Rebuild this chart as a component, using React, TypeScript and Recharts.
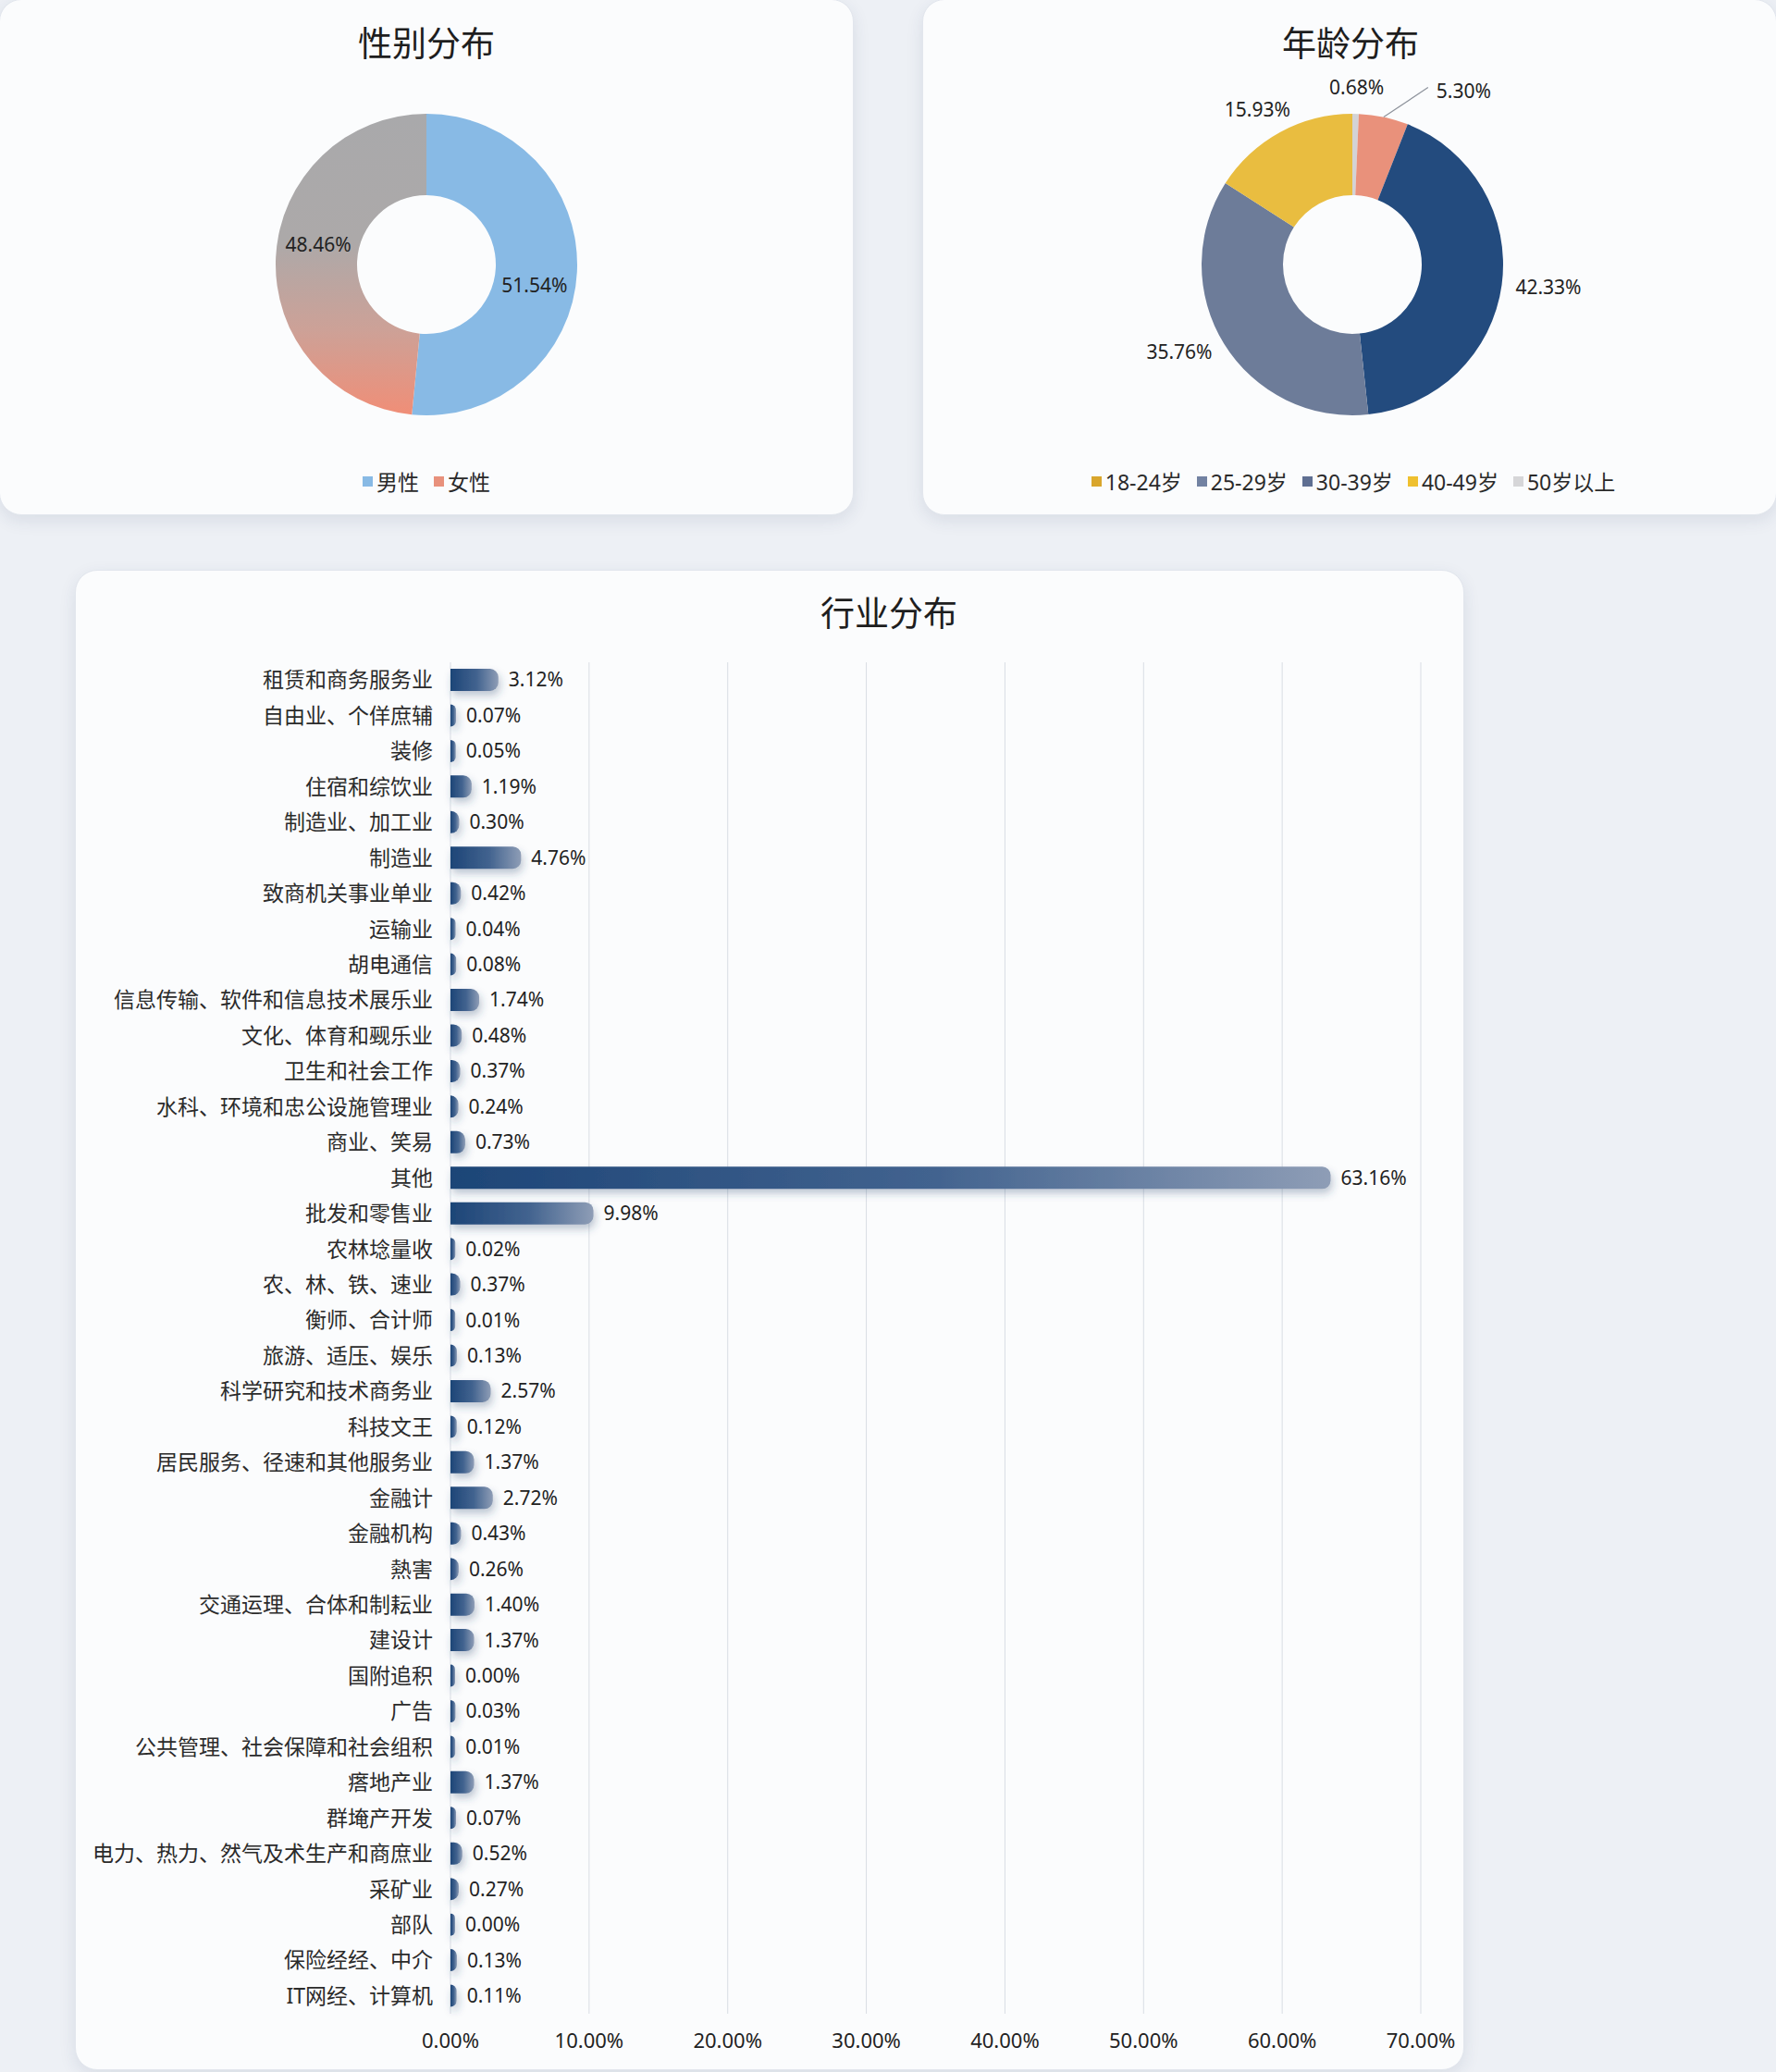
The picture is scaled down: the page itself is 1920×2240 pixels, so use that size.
import React from "react";
import {
  PieChart,
  Pie,
  Cell,
  BarChart,
  Bar,
  XAxis,
  YAxis,
  CartesianGrid,
  LabelList,
} from "recharts";

// ---- data ----
const genderNames = ["男性", "女性"];
const genderValues = [51.54, 48.46];

// slices go clockwise from 12 o'clock
const ageSliceNames = ["50岁以上", "40-49岁", "30-39岁", "25-29岁", "18-24岁"];
const ageSliceValues = [0.68, 5.3, 42.33, 35.76, 15.93];
const ageLegendNames = ["18-24岁", "25-29岁", "30-39岁", "40-49岁", "50岁以上"];

const industryNames = [
  "租赁和商务服务业",
  "自由业、个佯庶辅",
  "装修",
  "住宿和综饮业",
  "制造业、加工业",
  "制造业",
  "致商机关事业单业",
  "运输业",
  "胡电通信",
  "信息传输、软件和信息技术展乐业",
  "文化、体育和觋乐业",
  "卫生和社会工作",
  "水科、环境和忠公设施管理业",
  "商业、笑易",
  "其他",
  "批发和零售业",
  "农林埝量收",
  "农、林、铁、速业",
  "衡师、合计师",
  "旅游、适压、娱乐",
  "科学研究和技术商务业",
  "科技文王",
  "居民服务、径速和其他服务业",
  "金融计",
  "金融机构",
  "熱害",
  "交通运理、合体和制耘业",
  "建设计",
  "国附追积",
  "广告",
  "公共管理、社会保障和社会组积",
  "瘩地产业",
  "群埯产开发",
  "电力、热力、然气及术生产和商庶业",
  "采矿业",
  "部队",
  "保险经经、中介",
  "IT网经、计算机",
];
const industryValues = [
  3.12, 0.07, 0.05, 1.19, 0.3, 4.76, 0.42, 0.04, 0.08, 1.74, 0.48, 0.37, 0.24,
  0.73, 63.16, 9.98, 0.02, 0.37, 0.01, 0.13, 2.57, 0.12, 1.37, 2.72, 0.43, 0.26,
  1.4, 1.37, 0.0, 0.03, 0.01, 1.37, 0.07, 0.52, 0.27, 0.0, 0.13, 0.11,
];
const xTicks = [0, 10, 20, 30, 40, 50, 60, 70];

// ---- styles ----
const genderColors = ["#88BAE5", "url(#femaleGrad)"];
const genderLegendColors = ["#88BAE5", "#E8917C"];
const ageSliceColors = ["#D3D3D6", "#E9917B", "#234B7E", "#6D7C99", "#E9BD40"];
const ageLegendColors = ["#D9A62C", "#7282A2", "#5F6F92", "#EFC02F", "#D6D6D8"];

const FONT = "'Noto Sans', 'Noto Sans CJK SC', sans-serif";
const CJK = "'Noto Sans CJK SC', sans-serif";
const RADIAN = Math.PI / 180;

const genderData = genderNames.map((name, i) => ({ name, value: genderValues[i] }));
const ageData = ageSliceNames.map((name, i) => ({ name, value: ageSliceValues[i] }));
const industryData = industryNames.map((name, i) => ({ name, value: industryValues[i] }));

const pct = (v: number) => `${v.toFixed(2)}%`;

const cardStyle: React.CSSProperties = {
  position: "absolute",
  background: "#FBFCFD",
  borderRadius: 24,
  border: "1px solid #E2E6ED",
  boxShadow: "0 6px 18px rgba(40,60,100,0.10)",
  overflow: "hidden",
};

const titleStyle: React.CSSProperties = {
  position: "absolute",
  top: 17,
  height: 56,
  lineHeight: "56px",
  fontSize: 37,
  color: "#1E1E1E",
  fontFamily: CJK,
  textAlign: "center",
};

const LegendRow = ({ names, colors, width }: any) => (
  <div
    style={{
      position: "absolute",
      left: 0,
      top: 506,
      width,
      height: 28,
      display: "flex",
      justifyContent: "center",
      alignItems: "center",
      gap: 16,
      fontFamily: FONT,
      fontSize: 23,
      color: "#2A2A2A",
    }}
  >
    {names.map((n: string, i: number) => (
      <div key={n} style={{ display: "flex", alignItems: "center", gap: 4 }}>
        <span style={{ width: 11, height: 11, background: colors[i], display: "inline-block" }} />
        <span>{n}</span>
      </div>
    ))}
  </div>
);

const renderGenderLabel = (p: any) => {
  const { cx, cy, midAngle, innerRadius, outerRadius, value } = p;
  const r = (innerRadius + outerRadius) / 2;
  const a = (midAngle - 8) * RADIAN;
  const x = cx + r * Math.cos(a);
  const y = cy - r * Math.sin(a);
  return (
    <text x={x} y={y} textAnchor="middle" dominantBaseline="central" fill="#222" fontSize={21} fontFamily={FONT}>
      {pct(value)}
    </text>
  );
};

const renderAgeLabel = (p: any) => {
  const { cx, cy, midAngle, outerRadius, value, index } = p;
  const cos = Math.cos(midAngle * RADIAN);
  const sin = Math.sin(midAngle * RADIAN);
  const common = { fill: "#222", fontSize: 21, fontFamily: FONT, dominantBaseline: "central" as const };
  if (index === 1) {
    // leader line for the thin slice
    const sx = cx + outerRadius * cos;
    const sy = cy - outerRadius * sin;
    const ex = sx + 48;
    const ey = sy - 32;
    return (
      <g>
        <path d={`M${sx},${sy}L${ex},${ey}`} stroke="#8D929B" strokeWidth={1.2} fill="none" />
        <text x={ex + 9} y={ey + 3} textAnchor="start" {...common}>
          {pct(value)}
        </text>
      </g>
    );
  }
  if (Math.abs(cos) < 0.6) {
    const r = outerRadius + 29;
    return (
      <text x={cx + r * cos + 22 * cos} y={cy - r * sin} textAnchor="middle" {...common}>
        {pct(value)}
      </text>
    );
  }
  const r = outerRadius + 15;
  return (
    <text x={cx + r * cos} y={cy - r * sin} textAnchor={cos > 0 ? "start" : "end"} {...common}>
      {pct(value)}
    </text>
  );
};

const RoundBar = (props: any) => {
  const { x, y, width, height } = props;
  if (x == null || y == null) return null;
  const w = Math.max(width || 0, 0) + 5;
  const rr = Math.min(height / 2, 9, w);
  const d = `M${x},${y} H${x + w - rr} A${rr},${rr} 0 0 1 ${x + w},${y + rr} V${y + height - rr} A${rr},${rr} 0 0 1 ${x + w - rr},${y + height} H${x} Z`;
  return <path d={d} fill="url(#barGrad)" filter="url(#barShadow)" />;
};

export default function App() {
  return (
    <div
      style={{
        position: "absolute",
        left: 0,
        top: 0,
        width: 1920,
        height: 2240,
        background: "#EDF0F5",
        overflow: "hidden",
      }}
    >
      {/* gender */}
      <div style={{ ...cardStyle, left: -1, top: -1, width: 922, height: 556 }}>
        <div style={{ ...titleStyle, left: 0, width: 922 }}>性别分布</div>
        <div style={{ position: "absolute", left: 0, top: 0 }}>
          <PieChart width={922} height={556} margin={{ top: 0, right: 0, bottom: 0, left: 0 }}>
            <defs>
              <linearGradient id="femaleGrad" x1="0" y1="0" x2="0" y2="1">
                <stop offset="0%" stopColor="#A9A9AB" />
                <stop offset="42%" stopColor="#ACA9A9" />
                <stop offset="72%" stopColor="#CDA197" />
                <stop offset="100%" stopColor="#F08E77" />
              </linearGradient>
            </defs>
            <Pie
              data={genderData}
              dataKey="value"
              cx={461}
              cy={286}
              innerRadius={75}
              outerRadius={163}
              startAngle={90}
              endAngle={-270}
              stroke="none"
              labelLine={false}
              label={renderGenderLabel}
              isAnimationActive={false}
            >
              {genderData.map((d, i) => (
                <Cell key={d.name} fill={genderColors[i]} stroke="none" />
              ))}
            </Pie>
          </PieChart>
        </div>
        <LegendRow names={genderNames} colors={genderLegendColors} width={922} />
      </div>

      {/* age */}
      <div style={{ ...cardStyle, left: 997, top: -1, width: 922, height: 556 }}>
        <div style={{ ...titleStyle, left: 0, width: 924 }}>年龄分布</div>
        <div style={{ position: "absolute", left: 0, top: 0 }}>
          <PieChart width={922} height={556} margin={{ top: 0, right: 0, bottom: 0, left: 0 }}>
            <Pie
              data={ageData}
              dataKey="value"
              cx={464}
              cy={286}
              innerRadius={75}
              outerRadius={163}
              startAngle={90}
              endAngle={-270}
              stroke="none"
              labelLine={false}
              label={renderAgeLabel}
              isAnimationActive={false}
            >
              {ageData.map((d, i) => (
                <Cell key={d.name} fill={ageSliceColors[i]} stroke="none" />
              ))}
            </Pie>
          </PieChart>
        </div>
        <LegendRow names={ageLegendNames} colors={ageLegendColors} width={930} />
      </div>

      {/* industry */}
      <div style={{ ...cardStyle, left: 81, top: 616, width: 1500, height: 1620 }}>
        <div style={{ ...titleStyle, top: 16, left: 0, width: 1758 }}>行业分布</div>
        <div style={{ position: "absolute", left: 0, top: 0 }}>
          <BarChart
            width={1500}
            height={1620}
            layout="vertical"
            data={industryData}
            margin={{ top: 99, right: 46, bottom: 0, left: 0 }}
          >
            <defs>
              <linearGradient id="barGrad" x1="0" y1="0" x2="1" y2="0">
                <stop offset="0%" stopColor="#1D4577" />
                <stop offset="55%" stopColor="#42638F" />
                <stop offset="100%" stopColor="#8E9DB6" />
              </linearGradient>
              <filter id="barShadow" filterUnits="userSpaceOnUse" x="0" y="0" width="1500" height="1620">
                <feDropShadow dx="2" dy="5" stdDeviation="4" floodColor="#2A4470" floodOpacity="0.3" />
              </filter>
            </defs>
            <CartesianGrid horizontal={false} vertical stroke="#D9DDE4" />
            <XAxis
              type="number"
              domain={[0, 70]}
              ticks={xTicks}
              tickFormatter={pct}
              axisLine={false}
              tickLine={false}
              height={60}
              tickMargin={15}
              tick={{ fontSize: 22, fill: "#222", fontFamily: FONT }}
            />
            <YAxis
              type="category"
              dataKey="name"
              width={405}
              interval={0}
              axisLine={false}
              tickLine={false}
              tickSize={0}
              tickMargin={19}
              tick={{ fontSize: 23, fill: "#2B2B2B", fontFamily: FONT }}
            />
            <Bar dataKey="value" barSize={24} shape={RoundBar} isAnimationActive={false}>
              <LabelList
                dataKey="value"
                position="right"
                offset={16}
                formatter={(v: any) => pct(Number(v))}
                fill="#222"
                fontSize={21}
                fontFamily={FONT}
              />
            </Bar>
          </BarChart>
        </div>
      </div>
    </div>
  );
}
